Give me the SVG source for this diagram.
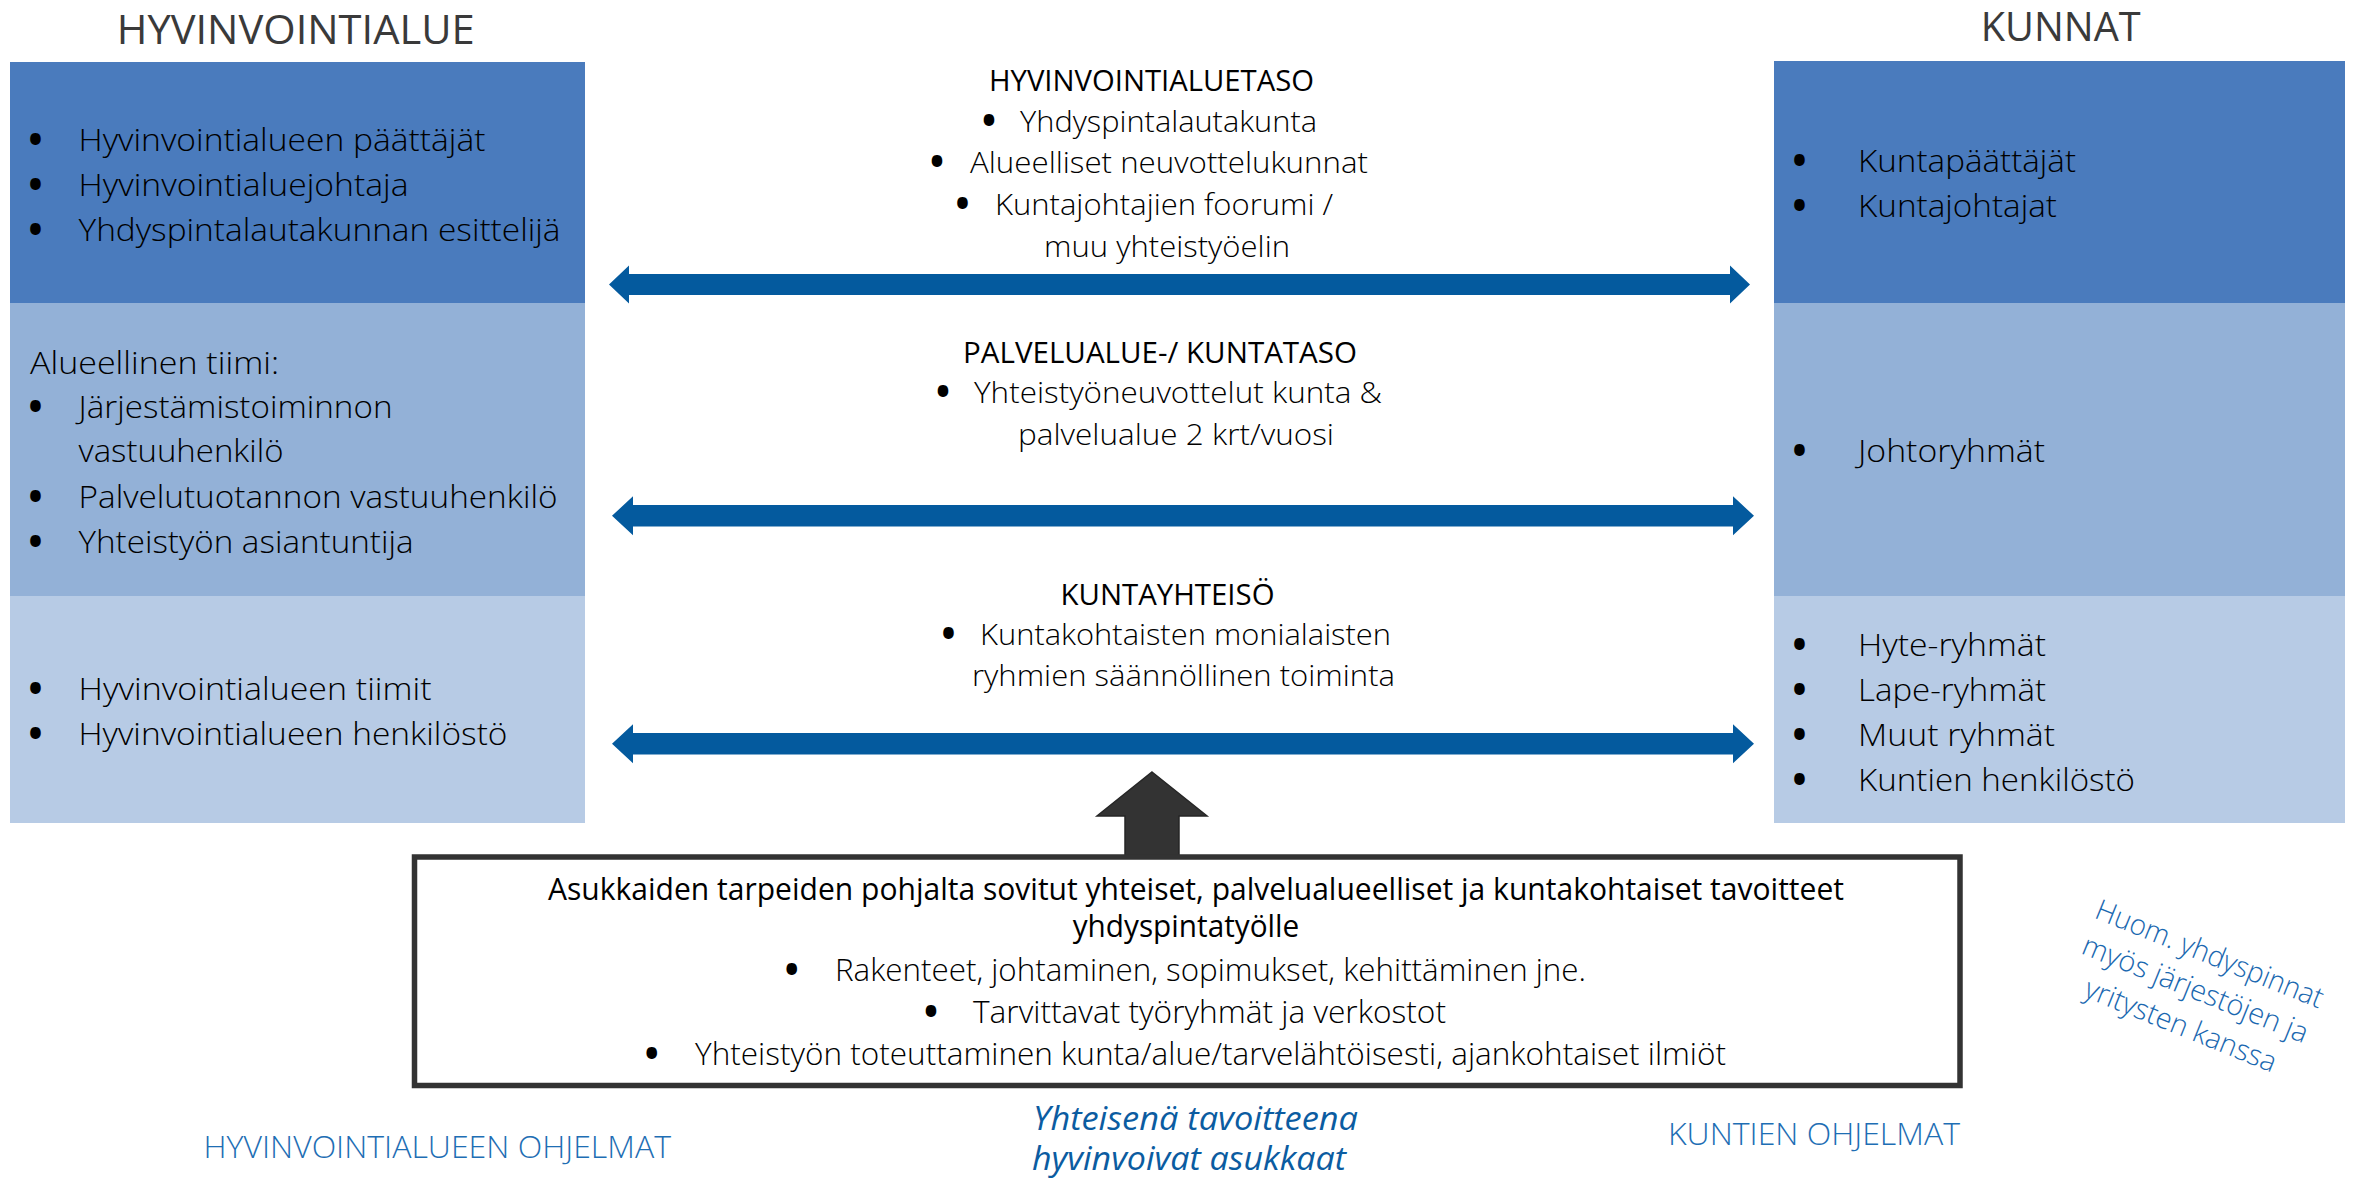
<svg xmlns="http://www.w3.org/2000/svg" width="2364" height="1179" viewBox="0 0 2364 1179">
<style>
text{font-family:"Open Sans","Noto Sans","Liberation Sans",sans-serif;}
.b1{fill:#4A7BBD}
.b2{fill:#93B1D7}
.b3{fill:#B7CBE5}
.hdr{font-size:41px;fill:#3A3A3A}
.c{font-size:31px;fill:#000;font-weight:300}
.m{font-size:30px;fill:#000;font-weight:300}
.mh{font-size:30px;fill:#000;font-weight:400}
.bh{font-size:31px;fill:#000;font-weight:400}
.bl{font-size:31px;fill:#1E6EB4;font-weight:300}
.it{font-size:33px;fill:#0B5CA1;font-style:italic}
.note{font-size:29px;fill:#1A68B0;font-weight:300}
.mid{text-anchor:middle}
.bu{font-size:33px;fill:#000;font-weight:800;text-anchor:middle}
.arr{fill:#045A9E}
</style>

<g id="header-left"><text class="hdr" x="116.7" y="44" textLength="358" lengthAdjust="spacingAndGlyphs">HYVINVOINTIALUE</text></g>
<g id="header-right"><text class="hdr" x="1980.7" y="41" textLength="160" lengthAdjust="spacingAndGlyphs">KUNNAT</text></g>

<g id="left-top">
<rect class="b1" x="10" y="62" width="575" height="241"/>
<text class="bu" x="35.6" y="152">•</text><text class="c" x="78.5" y="151" textLength="407" lengthAdjust="spacingAndGlyphs">Hyvinvointialueen päättäjät</text>
<text class="bu" x="35.6" y="197">•</text><text class="c" x="78.5" y="196" textLength="330" lengthAdjust="spacingAndGlyphs">Hyvinvointialuejohtaja</text>
<text class="bu" x="35.6" y="242">•</text><text class="c" x="78.5" y="241" textLength="482" lengthAdjust="spacingAndGlyphs">Yhdyspintalautakunnan esittelijä</text>
</g>
<g id="left-middle">
<rect class="b2" x="10" y="303" width="575" height="293"/>
<text class="c" x="30" y="373.6" textLength="249" lengthAdjust="spacingAndGlyphs">Alueellinen tiimi:</text>
<text class="bu" x="35.6" y="419">•</text><text class="c" x="78.5" y="418" textLength="314" lengthAdjust="spacingAndGlyphs">Järjestämistoiminnon</text>
<text class="c" x="78.5" y="462" textLength="205" lengthAdjust="spacingAndGlyphs">vastuuhenkilö</text>
<text class="bu" x="35.6" y="508.6">•</text><text class="c" x="78.5" y="507.6" textLength="479" lengthAdjust="spacingAndGlyphs">Palvelutuotannon vastuuhenkilö</text>
<text class="bu" x="35.6" y="553.6">•</text><text class="c" x="78.5" y="552.6" textLength="335" lengthAdjust="spacingAndGlyphs">Yhteistyön asiantuntija</text>
</g>
<g id="left-bottom">
<rect class="b3" x="10" y="596" width="575" height="227"/>
<text class="bu" x="35.6" y="701.3">•</text><text class="c" x="78.5" y="700.3" textLength="353" lengthAdjust="spacingAndGlyphs">Hyvinvointialueen tiimit</text>
<text class="bu" x="35.6" y="746">•</text><text class="c" x="78.5" y="745" textLength="429" lengthAdjust="spacingAndGlyphs">Hyvinvointialueen henkilöstö</text>
</g>

<g id="right-top">
<rect class="b1" x="1774" y="61" width="571" height="242"/>
<text class="bu" x="1799.5" y="172.7">•</text><text class="c" x="1858" y="171.7" textLength="218" lengthAdjust="spacingAndGlyphs">Kuntapäättäjät</text>
<text class="bu" x="1799.5" y="217.7">•</text><text class="c" x="1858" y="216.7" textLength="199" lengthAdjust="spacingAndGlyphs">Kuntajohtajat</text>
</g>
<g id="right-middle">
<rect class="b2" x="1774" y="303" width="571" height="293"/>
<text class="bu" x="1799.5" y="462.7">•</text><text class="c" x="1858" y="461.7" textLength="187" lengthAdjust="spacingAndGlyphs">Johtoryhmät</text>
</g>
<g id="right-bottom">
<rect class="b3" x="1774" y="596" width="571" height="227"/>
<text class="bu" x="1799.5" y="656.7">•</text><text class="c" x="1858" y="655.7" textLength="188" lengthAdjust="spacingAndGlyphs">Hyte-ryhmät</text>
<text class="bu" x="1799.5" y="701.7">•</text><text class="c" x="1858" y="700.7" textLength="188" lengthAdjust="spacingAndGlyphs">Lape-ryhmät</text>
<text class="bu" x="1799.5" y="746.7">•</text><text class="c" x="1858" y="745.7" textLength="197" lengthAdjust="spacingAndGlyphs">Muut ryhmät</text>
<text class="bu" x="1799.5" y="791.7">•</text><text class="c" x="1858" y="790.7" textLength="277" lengthAdjust="spacingAndGlyphs">Kuntien henkilöstö</text>
</g>

<g id="level-hyvinvointialuetaso">
<text class="mh" x="989" y="90.7" textLength="325" lengthAdjust="spacingAndGlyphs">HYVINVOINTIALUETASO</text>
<text class="bu" x="989" y="132.7">•</text><text class="m" x="1020" y="131.7" textLength="297" lengthAdjust="spacingAndGlyphs">Yhdyspintalautakunta</text>
<text class="bu" x="937" y="173.7">•</text><text class="m" x="970" y="172.7" textLength="398" lengthAdjust="spacingAndGlyphs">Alueelliset neuvottelukunnat</text>
<text class="bu" x="962.6" y="216">•</text><text class="m" x="995" y="215" textLength="338" lengthAdjust="spacingAndGlyphs">Kuntajohtajien foorumi /</text>
<text class="m" x="1044" y="256.5" textLength="246" lengthAdjust="spacingAndGlyphs">muu yhteistyöelin</text>
</g>
<g id="level-kuntataso">
<text class="mh" x="963" y="363.3" textLength="394" lengthAdjust="spacingAndGlyphs">PALVELUALUE-/ KUNTATASO</text>
<text class="bu" x="943" y="404.3">•</text><text class="m" x="974" y="403.3" textLength="408" lengthAdjust="spacingAndGlyphs">Yhteistyöneuvottelut kunta &amp;</text>
<text class="m" x="1018" y="445" textLength="316" lengthAdjust="spacingAndGlyphs">palvelualue 2 krt/vuosi</text>
</g>
<g id="level-kuntayhteiso">
<text class="mh" x="1060.5" y="605" textLength="214" lengthAdjust="spacingAndGlyphs">KUNTAYHTEISÖ</text>
<text class="bu" x="948.5" y="646">•</text><text class="m" x="980" y="645" textLength="411" lengthAdjust="spacingAndGlyphs">Kuntakohtaisten monialaisten</text>
<text class="m" x="972" y="686" textLength="423" lengthAdjust="spacingAndGlyphs">ryhmien säännöllinen toiminta</text>
</g>

<g id="connectors">
<polygon class="arr" points="609,284.5 629,265.5 629,274 1730,274 1730,265.5 1750,284.5 1730,303.5 1730,295 629,295 629,303.5"/>
<polygon class="arr" points="612,515.8 633,496.3 633,505 1733,505 1733,496.3 1754,515.8 1733,535.3 1733,526.6 633,526.6 633,535.3"/>
<polygon class="arr" points="612,743.7 633,724.3 633,733 1733,733 1733,724.3 1754,743.7 1733,763.3 1733,754.5 633,754.5 633,763.3"/>
<polygon points="1152,772 1207,816 1179,816 1179,857 1125,857 1125,816 1097,816" fill="#333333" stroke="#262626" stroke-width="1.5" stroke-linejoin="miter"/>
</g>

<g id="goals-box">
<rect x="414.5" y="857" width="1545.5" height="228.5" fill="#FFFFFF" stroke="#333333" stroke-width="5.5"/>
<text class="bh" x="548" y="900" textLength="1296" lengthAdjust="spacingAndGlyphs">Asukkaiden tarpeiden pohjalta sovitut yhteiset, palvelualueelliset ja kuntakohtaiset tavoitteet</text>
<text class="bh" x="1072.7" y="936.7" textLength="226.6" lengthAdjust="spacingAndGlyphs">yhdyspintatyölle</text>
<text class="bu" x="791.7" y="982">•</text><text class="c" x="835" y="981" textLength="751" lengthAdjust="spacingAndGlyphs">Rakenteet, johtaminen, sopimukset, kehittäminen jne.</text>
<text class="bu" x="931" y="1024">•</text><text class="c" x="973" y="1023" textLength="473" lengthAdjust="spacingAndGlyphs">Tarvittavat työryhmät ja verkostot</text>
<text class="bu" x="651.7" y="1066">•</text><text class="c" x="695" y="1065" textLength="1031" lengthAdjust="spacingAndGlyphs">Yhteistyön toteuttaminen kunta/alue/tarvelähtöisesti, ajankohtaiset ilmiöt</text>
</g>

<g id="label-hyvinvointialueen-ohjelmat"><text class="bl" x="203.5" y="1158" textLength="467.5" lengthAdjust="spacingAndGlyphs">HYVINVOINTIALUEEN OHJELMAT</text></g>
<g id="label-yhteinen-tavoite">
<text class="it" x="1033" y="1130" textLength="325" lengthAdjust="spacingAndGlyphs">Yhteisenä tavoitteena</text>
<text class="it" x="1032" y="1170" textLength="314" lengthAdjust="spacingAndGlyphs">hyvinvoivat asukkaat</text>
</g>
<g id="label-kuntien-ohjelmat"><text class="bl" x="1668" y="1145" textLength="292" lengthAdjust="spacingAndGlyphs">KUNTIEN OHJELMAT</text></g>

<g id="note" transform="translate(2206,963) rotate(22)">
<text class="note mid" x="0" y="0" textLength="243" lengthAdjust="spacingAndGlyphs">Huom. yhdyspinnat</text>
<text class="note mid" x="0" y="38" textLength="241" lengthAdjust="spacingAndGlyphs">myös järjestöjen ja</text>
<text class="note mid" x="0" y="77" textLength="204" lengthAdjust="spacingAndGlyphs">yritysten kanssa</text>
</g>
</svg>
